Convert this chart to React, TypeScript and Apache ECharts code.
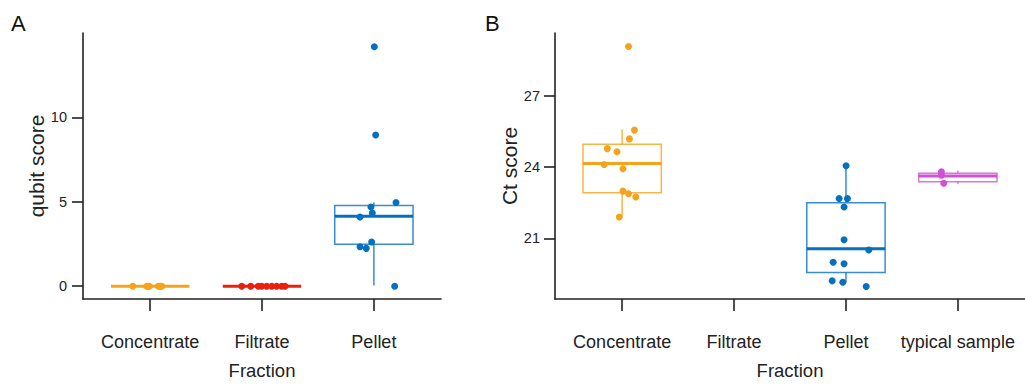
import React, { useEffect, useRef } from "react";
import * as echarts from "echarts";

// ---------- categories & ticks ----------
const catsA = ["Concentrate", "Filtrate", "Pellet"];
const catsB = ["Concentrate", "Filtrate", "Pellet", "typical sample"];
const catPosA = [1, 2, 3];
const catPosB = [1, 2, 3, 4];
const ticksA = [0, 5, 10];
const ticksB = [21, 24, 27];

// ---------- colours ----------
const cOrange = "#F5A31A";
const cRed = "#E8200F";
const cBlue = "#0570C0";
const cMagenta = "#D052D2";

// ---------- box stats: [position, lowerWhisker, q1, median, q3, upperWhisker] ----------
const boxA_conc = [1, 0, 0, 0, 0, 0];
const boxA_filt = [2, 0, 0, 0, 0, 0];
const boxA_pell = [3, 0.04, 2.48, 4.14, 4.78, 4.96];
const boxB_conc = [1, 21.93, 22.92, 24.15, 24.96, 25.58];
const boxB_pell = [3, 19.15, 19.56, 20.56, 22.5, 24.06];
const boxB_typ = [4, 23.3, 23.38, 23.63, 23.74, 23.85];

// ---------- jittered points (x = jittered category position, y = value) ----------
const concA_x = [0.845, 0.97, 0.98, 0.993, 1.073, 1.09, 1.104];
const concA_y = [0, 0, 0, 0, 0, 0, 0];
const filtA_x = [1.819, 1.899, 1.967, 1.997, 2.042, 2.087, 2.131, 2.176, 2.206];
const filtA_y = [0, 0, 0, 0, 0, 0, 0, 0, 0];
const pellA_x = [3.004, 3.016, 3.198, 2.974, 2.986, 2.876, 2.98, 2.876, 2.932, 3.186];
const pellA_y = [14.19, 8.96, 4.96, 4.69, 4.33, 4.1, 2.62, 2.34, 2.24, 0.0];

const concB_x = [1.057, 1.11, 1.065, 0.868, 0.954, 0.839, 1.007, 1.007, 1.057, 1.122, 0.974];
const concB_y = [29.08, 25.56, 25.19, 24.78, 24.65, 24.11, 23.93, 22.99, 22.88, 22.74, 21.9];
const pellB_x = [3.001, 2.939, 3.013, 2.983, 2.983, 3.204, 2.886, 2.983, 2.877, 2.972, 3.181];
const pellB_y = [24.06, 22.68, 22.68, 22.32, 20.94, 20.51, 19.99, 19.93, 19.21, 19.15, 18.97];
const typB_x = [3.853, 3.853, 3.874];
const typB_y = [23.8, 23.66, 23.32];

const SANS = "'Liberation Sans', Arial, sans-serif";
const AXIS_COLOR = "#222";

function pts(xs: number[], ys: number[]) {
  return xs.map((x, i) => [x, ys[i]]);
}

function hexToRgba(hex: string, a: number) {
  const n = parseInt(hex.slice(1), 16);
  return `rgba(${(n >> 16) & 255},${(n >> 8) & 255},${n & 255},${a})`;
}

function boxSeries(idx: number, box: number[], color: string) {
  return {
    type: "custom",
    xAxisIndex: idx,
    yAxisIndex: idx,
    clip: false,
    z: 2,
    data: [box],
    encode: { x: 0, y: [1, 2, 3, 4, 5] },
    renderItem: (params: any, api: any) => {
      const x = api.value(0);
      const lo = api.value(1);
      const q1 = api.value(2);
      const med = api.value(3);
      const q3 = api.value(4);
      const hi = api.value(5);
      const half = api.size([0.35, 0])[0];
      const pQ1 = api.coord([x, q1]);
      const pQ3 = api.coord([x, q3]);
      const pMed = api.coord([x, med]);
      const pLo = api.coord([x, lo]);
      const pHi = api.coord([x, hi]);
      const outline = hexToRgba(color, 0.8);
      return {
        type: "group",
        children: [
          {
            type: "line",
            shape: { x1: pHi[0], y1: pHi[1], x2: pQ3[0], y2: pQ3[1] },
            style: { stroke: outline, lineWidth: 1.5 },
          },
          {
            type: "line",
            shape: { x1: pQ1[0], y1: pQ1[1], x2: pLo[0], y2: pLo[1] },
            style: { stroke: outline, lineWidth: 1.5 },
          },
          {
            type: "rect",
            shape: { x: pQ3[0] - half, y: pQ3[1], width: half * 2, height: pQ1[1] - pQ3[1] },
            style: { stroke: outline, fill: "none", lineWidth: 1.5 },
          },
          {
            type: "line",
            shape: { x1: pMed[0] - half, y1: pMed[1], x2: pMed[0] + half, y2: pMed[1] },
            style: { stroke: color, lineWidth: 3 },
          },
        ],
      };
    },
  };
}

function dotSeries(idx: number, data: number[][], color: string) {
  return {
    type: "scatter",
    xAxisIndex: idx,
    yAxisIndex: idx,
    z: 3,
    symbol: "circle",
    symbolSize: 7,
    itemStyle: { color, opacity: 1 },
    data,
  };
}

function xAxisDef(idx: number, cats: string[], pos: number[], max: number) {
  return {
    type: "value",
    gridIndex: idx,
    min: 0.4,
    max,
    splitLine: { show: false },
    axisLine: { show: true, onZero: false, lineStyle: { color: AXIS_COLOR, width: 1.6 } },
    axisTick: { show: true, customValues: pos, length: 12, lineStyle: { color: AXIS_COLOR, width: 1.6 } },
    axisLabel: {
      customValues: pos,
      formatter: (v: number) => cats[Math.round(v) - 1] ?? "",
      margin: 34,
      fontSize: 18,
      fontFamily: SANS,
      color: AXIS_COLOR,
    },
    name: "Fraction",
    nameLocation: "middle",
    nameGap: 62,
    nameTextStyle: { fontSize: 18.5, fontFamily: SANS, color: AXIS_COLOR },
  };
}

function yAxisDef(idx: number, min: number, max: number, ticks: number[], name: string, nameGap: number, margin: number) {
  return {
    type: "value",
    gridIndex: idx,
    min,
    max,
    splitLine: { show: false },
    axisLine: { show: true, onZero: false, lineStyle: { color: AXIS_COLOR, width: 1.6 } },
    axisTick: { show: true, customValues: ticks, length: 11, lineStyle: { color: AXIS_COLOR, width: 1.6 } },
    axisLabel: {
      customValues: ticks,
      margin,
      fontSize: 14.5,
      fontFamily: SANS,
      color: AXIS_COLOR,
    },
    name,
    nameLocation: "middle",
    nameGap,
    nameTextStyle: { fontSize: 21, fontFamily: SANS, color: AXIS_COLOR },
  };
}

export default function App() {
  const ref = useRef<HTMLDivElement>(null);

  useEffect(() => {
    if (!ref.current) return;
    const chart = echarts.init(ref.current, undefined, { renderer: "svg" });
    const option: any = {
      animation: false,
      backgroundColor: "#ffffff",
      grid: [
        { left: 83, top: 33, width: 358, height: 269 },
        { left: 555, top: 33, width: 476, height: 269 },
      ],
      xAxis: [xAxisDef(0, catsA, catPosA, 3.6), xAxisDef(1, catsB, catPosB, 4.6)],
      yAxis: [
        yAxisDef(0, -0.76, 15.0, ticksA, "qubit score", 35, 16),
        yAxisDef(1, 18.445, 29.65, ticksB, "Ct score", 28, 15),
      ],
      graphic: [
        { type: "text", x: 11, y: 23, style: { text: "A", fontSize: 22, fontFamily: SANS, fill: "#111", verticalAlign: "middle" } },
        { type: "text", x: 485, y: 23, style: { text: "B", fontSize: 22, fontFamily: SANS, fill: "#111", verticalAlign: "middle" } },
      ],
      series: [
        boxSeries(0, boxA_conc, cOrange),
        boxSeries(0, boxA_filt, cRed),
        boxSeries(0, boxA_pell, cBlue),
        dotSeries(0, pts(concA_x, concA_y), cOrange),
        dotSeries(0, pts(filtA_x, filtA_y), cRed),
        dotSeries(0, pts(pellA_x, pellA_y), cBlue),
        boxSeries(1, boxB_conc, cOrange),
        boxSeries(1, boxB_pell, cBlue),
        boxSeries(1, boxB_typ, cMagenta),
        dotSeries(1, pts(concB_x, concB_y), cOrange),
        dotSeries(1, pts(pellB_x, pellB_y), cBlue),
        dotSeries(1, pts(typB_x, typB_y), cMagenta),
      ],
    };
    chart.setOption(option);
    return () => chart.dispose();
  }, []);

  return (
    <div
      ref={ref}
      style={{ position: "fixed", left: 0, top: 0, width: 1025, height: 385, background: "#fff" }}
    />
  );
}
